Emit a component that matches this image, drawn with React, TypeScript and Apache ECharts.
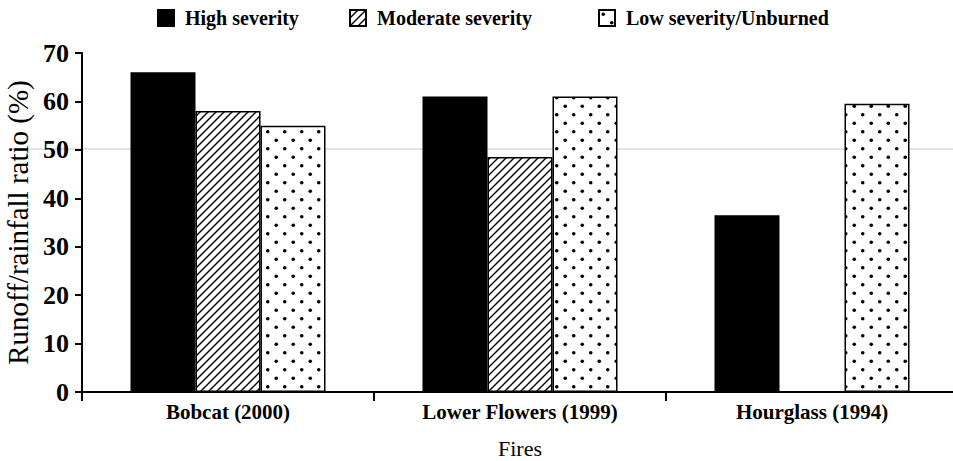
import React, { useEffect, useRef } from "react";
import * as echarts from "echarts";

const categories = ["Bobcat (2000)", "Lower Flowers (1999)", "Hourglass (1994)"];
const seriesNames = ["High severity", "Moderate severity", "Low severity/Unburned"];
const highSeverity = [66, 61, 36.5];
const moderateSeverity: (number | null)[] = [58, 48.5, null];
const lowSeverity = [55, 61, 59.5];
const yMin = 0;
const yMax = 70;
const yInterval = 10;

const FONT = "'Liberation Serif', 'Times New Roman', Times, serif";

function makeHatch(): HTMLCanvasElement {
  const c = document.createElement("canvas");
  const s = 8;
  c.width = s;
  c.height = s;
  const ctx = c.getContext("2d")!;
  ctx.fillStyle = "#fff";
  ctx.fillRect(0, 0, s, s);
  ctx.strokeStyle = "#000";
  ctx.lineWidth = 1.4;
  ctx.beginPath();
  ctx.moveTo(-2, s + 2);
  ctx.lineTo(s + 2, -2);
  ctx.moveTo(-2, 2);
  ctx.lineTo(2, -2);
  ctx.moveTo(s - 2, s + 2);
  ctx.lineTo(s + 2, s - 2);
  ctx.stroke();
  return c;
}

function makeDots(): HTMLCanvasElement {
  const c = document.createElement("canvas");
  const s = 17;
  c.width = s;
  c.height = s;
  const ctx = c.getContext("2d")!;
  ctx.fillStyle = "#fff";
  ctx.fillRect(0, 0, s, s);
  ctx.fillStyle = "#000";
  const pts = [
    [4.25, 4.25],
    [12.75, 12.75],
  ];
  for (const [x, y] of pts) {
    ctx.beginPath();
    ctx.arc(x, y, 1.8, 0, Math.PI * 2);
    ctx.fill();
  }
  return c;
}

export default function App() {
  const ref = useRef<HTMLDivElement>(null);
  useEffect(() => {
    if (!ref.current) return;
    const chart = echarts.init(ref.current, undefined, { renderer: "svg" });
    const hatch = { image: makeHatch(), repeat: "repeat" };
    const dots = { image: makeDots(), repeat: "repeat" };
    const legendCommon = {
      top: 8,
      padding: 0,
      itemWidth: 16,
      itemHeight: 16,
      icon: "rect",
      textStyle: {
        fontFamily: FONT,
        fontSize: 20,
        fontWeight: "bold",
        color: "#000",
        padding: [0, 0, 0, 6],
      },
    };
    const option: any = {
      animation: false,
      backgroundColor: "#fff",
      legend: [
        { ...legendCommon, left: 157, data: [seriesNames[0]] },
        { ...legendCommon, left: 349, data: [seriesNames[1]] },
        { ...legendCommon, left: 598, data: [seriesNames[2]] },
      ],
      grid: {
        left: 82,
        right: -5,
        top: 53,
        bottom: 69,
        containLabel: false,
        outerBoundsMode: "none",
      },
      xAxis: {
        type: "category",
        data: categories,
        name: "Fires",
        nameLocation: "middle",
        nameGap: 45,
        nameTextStyle: { fontFamily: FONT, fontSize: 22, color: "#000" },
        axisLine: { lineStyle: { color: "#000", width: 2 } },
        axisTick: { show: true, length: 9, lineStyle: { color: "#000", width: 2 } },
        axisLabel: {
          fontFamily: FONT,
          fontSize: 21,
          fontWeight: "bold",
          color: "#000",
          margin: 9,
        },
      },
      yAxis: {
        type: "value",
        min: yMin,
        max: yMax,
        interval: yInterval,
        name: "Runoff/rainfall ratio (%)",
        nameLocation: "middle",
        nameGap: 49,
        nameTextStyle: { fontFamily: FONT, fontSize: 29, color: "#000" },
        axisLine: { show: true, lineStyle: { color: "#000", width: 2 } },
        axisTick: { show: true, length: 7, lineStyle: { color: "#000", width: 2 } },
        splitLine: { show: false },
        axisLabel: {
          fontFamily: FONT,
          fontSize: 26,
          fontWeight: "bold",
          color: "#000",
          margin: 13,
        },
      },
      series: [
        {
          name: seriesNames[0],
          type: "bar",
          data: highSeverity,
          barWidth: 65,
          barGap: "0%",
          itemStyle: { color: "#000", borderColor: "#000", borderWidth: 1.5 },
        },
        {
          name: seriesNames[1],
          type: "bar",
          data: moderateSeverity,
          barWidth: 65,
          barGap: "0%",
          itemStyle: { color: hatch, borderColor: "#000", borderWidth: 1.5 },
        },
        {
          name: seriesNames[2],
          type: "bar",
          data: lowSeverity,
          barWidth: 65,
          barGap: "0%",
          itemStyle: { color: dots, borderColor: "#000", borderWidth: 1.5 },
        },
      ],
      graphic: [
        {
          type: "line",
          z: -1,
          silent: true,
          shape: { x1: 10, y1: 149, x2: 953, y2: 149 },
          style: { stroke: "#c4c4c4", lineWidth: 1.2 },
        },
      ],
    };
    chart.setOption(option);
    return () => chart.dispose();
  }, []);
  return (
    <div
      ref={ref}
      style={{ position: "absolute", left: 0, top: 0, width: 953, height: 461, background: "#fff" }}
    />
  );
}
